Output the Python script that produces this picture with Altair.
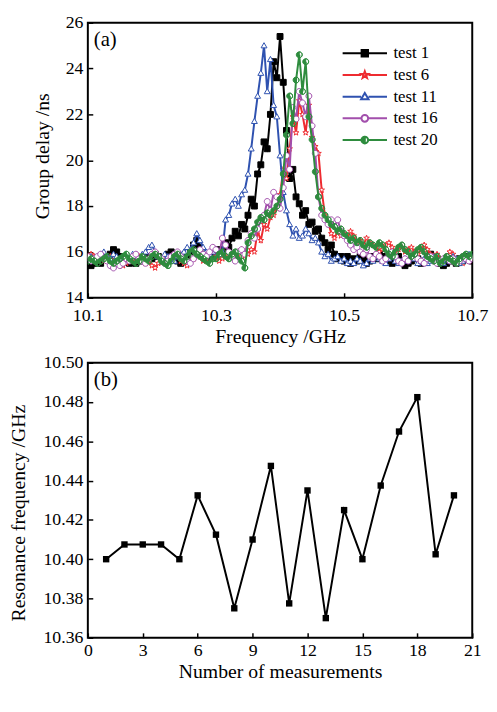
import altair as alt
import pandas as pd

FONT = "Liberation Serif, Times New Roman, serif"

# ---------------- panel (a) data: group delay (ns) on a 0.005 GHz grid ----------------
FREQ_START = 10.100
FREQ_STEP = 0.005

TEST1 = [15.5, 15.4, 15.5, 15.6, 15.5, 15.7, 15.8, 15.9, 16.1, 16.0,
         15.8, 15.7, 15.6, 15.5, 15.6, 15.5, 15.6, 15.7, 15.6, 15.8,
         15.7, 15.9, 15.8, 15.6, 15.7, 15.9, 16.0, 15.8, 15.6, 15.5,
         15.6, 15.8, 16.0, 16.3, 16.5, 16.2, 15.9, 15.7, 15.8, 15.9,
         15.9, 16.1, 16.0, 16.4, 16.2, 16.6, 16.9, 16.7, 17.2, 17.0,
         17.6, 18.3, 18.0, 19.4, 19.8, 20.8, 20.5, 22.0, 24.3, 23.6,
         25.4, 23.4, 21.3, 19.2, 19.6, 18.4, 18.1, 17.6, 17.8, 17.2,
         17.3, 16.9, 17.0, 16.6, 16.4, 16.1, 16.3, 15.9, 15.7, 15.8,
         15.6, 15.8, 15.5, 15.7, 15.6, 15.8, 15.7, 15.5, 15.6, 15.8,
         15.7, 15.9, 15.8, 15.6, 15.7, 15.5, 15.6, 15.8, 15.6, 15.4,
         15.5, 15.6, 15.8, 15.7, 15.5, 15.6, 15.8, 15.9, 15.7, 15.6,
         15.5, 15.4, 15.5, 15.7, 15.6, 15.5, 15.7, 15.6, 15.8, 15.7,
         15.6]

TEST6 = [15.8, 15.9, 15.8, 15.7, 15.8, 15.6, 15.7, 15.8, 15.6, 15.5,
         15.6, 15.4, 15.5, 15.6, 15.7, 15.6, 15.8, 15.7, 15.5, 15.6,
         15.4, 15.3, 15.5, 15.7, 15.8, 15.6, 15.7, 15.9, 15.8, 15.6,
         15.5, 15.4, 15.6, 15.7, 15.9, 15.8, 15.6, 15.7, 15.9, 16.0,
         15.8, 15.6, 15.7, 15.9, 16.0, 15.8, 15.7, 15.9, 16.1, 15.8,
         15.9, 16.1, 16.0, 16.9, 16.5, 17.2, 17.0, 17.5, 17.6, 17.9,
         18.5, 19.6, 19.2, 20.5, 21.9, 21.2, 22.6, 22.0, 21.2, 22.4,
         21.0, 20.6, 20.3, 18.7, 17.6, 17.3, 16.8, 16.6, 16.9, 16.7,
         16.8, 16.6, 16.9, 16.7, 16.4, 16.5, 16.3, 16.6, 16.4, 16.3,
         16.2, 16.0, 16.1, 16.3, 16.4, 16.2, 16.0, 16.1, 16.2, 16.0,
         16.1, 16.2, 16.0, 15.9, 16.1, 16.3, 16.1, 15.9, 15.8, 15.9,
         15.7, 15.6, 15.8, 16.0, 15.9, 15.7, 15.6, 15.5, 15.7, 15.6,
         15.7]

TEST11 = [15.7, 15.8, 15.6, 15.7, 15.9, 16.0, 15.8, 15.7, 15.9, 15.8,
          15.7, 15.6, 15.8, 15.7, 15.9, 15.8, 15.7, 15.9, 16.0, 16.2,
          16.3, 16.0, 15.8, 15.7, 15.9, 15.8, 15.7, 15.6, 15.8, 15.9,
          16.0, 16.2, 16.1, 16.4, 16.8, 16.5, 16.2, 16.0, 15.9, 16.0,
          16.1, 15.9, 16.0, 17.4, 17.6, 18.1, 18.3, 18.0, 18.5, 18.7,
          19.4, 20.5, 21.7, 22.8, 23.8, 25.0, 23.0, 24.4, 22.4, 21.9,
          20.2, 18.6, 17.8, 17.2, 16.7, 17.0, 16.6, 16.7, 17.0, 16.8,
          16.5, 16.6, 16.4, 16.0, 15.8, 15.9, 15.6, 15.7, 15.8, 15.6,
          15.7, 15.5, 15.6, 15.5, 15.7, 15.6, 15.4, 15.5, 15.7, 15.6,
          15.8, 15.7, 15.6, 15.5, 15.7, 15.8, 15.6, 15.5, 15.6, 15.7,
          15.6, 15.8, 15.7, 15.5, 15.6, 15.7, 15.5, 15.6, 15.8, 15.7,
          15.6, 15.5, 15.7, 15.6, 15.8, 15.7, 15.5, 15.6, 15.7, 15.9,
          15.8]

TEST16 = [15.8, 15.6, 15.7, 15.8, 15.9, 15.7, 15.6, 15.4, 15.3, 15.5,
          15.4, 15.5, 15.7, 15.6, 15.8, 15.9, 15.7, 15.6, 15.5, 15.7,
          15.9, 16.0, 15.8, 15.7, 15.5, 15.6, 15.8, 15.9, 16.0, 15.8,
          15.7, 15.6, 15.5, 15.7, 15.9, 16.1, 15.9, 15.8, 16.0, 16.2,
          16.1, 15.9, 16.6, 16.3, 16.0, 15.8, 15.6, 16.0, 16.1, 15.9,
          16.5, 16.8, 16.6, 17.0, 17.4, 17.6, 18.2, 17.8, 18.6, 18.4,
          17.9, 18.8, 20.2, 19.6, 22.3, 21.8, 23.0, 22.5, 21.9, 22.8,
          21.5, 20.3, 18.4, 17.6, 17.4, 17.2, 17.4, 17.1, 17.4, 16.9,
          16.7, 16.5, 16.3, 16.1, 16.2, 16.0, 15.9, 16.1, 15.8, 15.7,
          15.9, 15.8, 15.6, 15.7, 15.9, 16.0, 15.8, 15.6, 15.5, 15.7,
          15.6, 15.8, 15.9, 15.7, 15.6, 15.5, 15.7, 15.8, 15.6, 15.5,
          15.6, 15.7, 15.8, 15.6, 15.7, 15.5, 15.6, 15.8, 15.7, 15.6,
          15.7]

TEST20 = [15.6, 15.7, 15.6, 15.5, 15.6, 15.7, 15.8, 15.6, 15.5, 15.6,
          15.7, 15.8, 15.9, 15.7, 15.6, 15.5, 15.6, 15.8, 15.7, 15.6,
          15.8, 15.9, 15.8, 15.6, 15.5, 15.4, 15.6, 15.8, 15.9, 15.7,
          15.6, 15.8, 16.0, 16.1, 15.9, 15.8, 15.7, 15.6, 15.5, 15.7,
          15.7, 15.9, 16.0, 15.8, 15.7, 15.9, 16.0, 15.8, 15.6, 15.3,
          16.4, 16.7, 17.0, 17.3, 17.5, 17.4, 17.7, 17.6, 17.8, 18.0,
          18.3, 19.4, 21.1, 22.8, 21.6, 23.5, 24.6, 23.0, 24.3, 21.9,
          20.9, 19.5, 18.4, 17.9, 17.6, 17.4, 17.2, 17.1, 16.9, 17.0,
          16.8, 16.7, 16.5, 16.6, 16.4, 16.5, 16.3, 16.2, 16.4, 16.3,
          16.2, 16.4, 16.3, 16.1, 15.9, 15.8, 16.0, 16.2, 16.3, 16.1,
          16.0, 15.8, 15.9, 16.1, 16.2, 16.0, 15.8, 15.7, 15.6, 15.8,
          15.5, 15.6, 15.8, 15.7, 15.6, 15.5, 15.7, 15.8, 15.9, 15.8,
          15.9]

SERIES = ["test 1", "test 6", "test 11", "test 16", "test 20"]
VALUES = [TEST1, TEST6, TEST11, TEST16, TEST20]
COLORS = ["#000000", "#ee2b30", "#2f52b0", "#a24fac", "#2e8c3e"]
FILLS = ["#000000", "#ffffff", "#ffffff", "#ffffff", "#2e8c3e"]

TOP_X_TICKS = [10.1, 10.3, 10.5, 10.7]
TOP_Y_TICKS = [14, 16, 18, 20, 22, 24, 26]

# ---------------- panel (b) data ----------------
MEAS = list(range(1, 21))
RES_FREQ = [10.400, 10.4075, 10.4075, 10.4075, 10.400, 10.4325, 10.4125, 10.375, 10.410, 10.4475,
            10.3775, 10.435, 10.370, 10.425, 10.400, 10.4375, 10.465, 10.4825, 10.4025, 10.4325]
BOT_X_TICKS = [0, 3, 6, 9, 12, 15, 18, 21]
BOT_Y_TICKS = [10.36, 10.38, 10.40, 10.42, 10.44, 10.46, 10.48, 10.50]

PANEL_A = ["(a)"]
PANEL_B = ["(b)"]

# ---------------- marker shapes (unit square paths) ----------------
SQUARE = "M-1,-1H1V1H-1Z"
STAR = ("M0,-1L0.235,-0.324L0.951,-0.309L0.380,0.124L0.588,0.809L0,0.4"
        "L-0.588,0.809L-0.380,0.124L-0.951,-0.309L-0.235,-0.324Z")
TRI = "M0,-1L1,0.75L-1,0.75Z"
CIRCLE = "M1,0A1,1 0 1,1 -1,0A1,1 0 1,1 1,0Z"
HALF = "M1,0A1,1 0 1,1 -1,0A1,1 0 1,1 1,0Z M0,1A1,1 0 0,0 0,-1Z"
MARKERS = [SQUARE, STAR, TRI, CIRCLE, HALF]

# legend symbols: a line with the marker in the middle (unit = 9 px)
LEG_SHAPES = [
    "M-2.5,0H2.5M-0.36,-0.36H0.36V0.36H-0.36Z",
    "M-2.5,0H-0.42M0.42,0H2.5M0,-0.42L0.1,-0.138L0.399,-0.13L0.162,0.053L0.247,0.34L0,0.17"
    "L-0.247,0.34L-0.162,0.053L-0.399,-0.13L-0.1,-0.138Z",
    "M-2.5,0H-0.42M0.42,0H2.5M0,-0.42L0.42,0.3L-0.42,0.3Z",
    "M-2.5,0H-0.38M0.38,0H2.5M0.38,0A0.38,0.38 0 1,1 -0.38,0A0.38,0.38 0 1,1 0.38,0Z",
    "M-2.5,0H-0.38M0.38,0H2.5M0.38,0A0.38,0.38 0 1,1 -0.38,0A0.38,0.38 0 1,1 0.38,0Z"
    "M0,0.38A0.38,0.38 0 0,0 0,-0.38Z",
]

freq = [round(FREQ_START + FREQ_STEP * i, 3) for i in range(len(TEST1))]

PLOT_W = 390
PLOT_H = 279

# ---------------- panel (a) ----------------
xs_top = alt.Scale(domain=[10.1, 10.7], nice=False, zero=False)
ys_top = alt.Scale(domain=[14, 26], nice=False, zero=False)
xa_top = alt.Axis(values=TOP_X_TICKS, tickCount=20, format=".1f", title="Frequency /GHz",
                  offset=-5, tickSize=5, labelPadding=9, labelFlush=False, labelOverlap=False,
                  titleY=50, titleBaseline="alphabetic")
ya_top = alt.Axis(values=TOP_Y_TICKS, tickCount=20, format="d", title="Group delay /ns",
                  offset=-5, tickSize=5, labelPadding=5, labelOverlap=False,
                  titleX=-51, titleY=135, titleBaseline="middle", titleAlign="center", titleAngle=-90)

layers = []
for name, vals, col, fill, shp in zip(SERIES, VALUES, COLORS, FILLS, MARKERS):
    df = pd.DataFrame({"freq": freq, "delay": vals, "series": name})
    base = alt.Chart(df).encode(
        x=alt.X("freq:Q", scale=xs_top, axis=xa_top),
        y=alt.Y("delay:Q", scale=ys_top, axis=ya_top),
    )
    layers.append(base.mark_line(color=col, strokeWidth=2, clip=True))
    layers.append(base.mark_point(shape=shp, size=36, fill=fill, stroke=col, strokeWidth=1,
                                  opacity=1, fillOpacity=1, clip=True))

LEG = alt.Legend(title=None, orient="none", legendX=271, legendY=21, padding=0,
                 symbolSize=324, symbolStrokeWidth=2, symbolOpacity=1,
                 labelFont=FONT, labelFontSize=17, labelColor="black", labelOffset=19,
                 rowPadding=4)
leg_df = pd.DataFrame({"series": SERIES})
legend_layer = alt.Chart(leg_df).mark_point(opacity=0).encode(
    color=alt.Color("series:N", scale=alt.Scale(domain=SERIES, range=COLORS), legend=LEG),
    fill=alt.Fill("series:N", scale=alt.Scale(domain=SERIES, range=FILLS), legend=LEG),
    shape=alt.Shape("series:N", scale=alt.Scale(domain=SERIES, range=LEG_SHAPES), legend=LEG),
)

label_a = alt.Chart(pd.DataFrame({"label": PANEL_A})).mark_text(
    align="left", baseline="top", dx=6, dy=7, font=FONT, fontSize=21, color="black"
).encode(x=alt.datum(10.1), y=alt.datum(26), text="label:N")

top = alt.layer(*layers, legend_layer, label_a).properties(width=PLOT_W, height=PLOT_H)

# ---------------- panel (b) ----------------
df2 = pd.DataFrame({"n": MEAS, "f": RES_FREQ})
xs_bot = alt.Scale(domain=[0, 21], nice=False, zero=False)
ys_bot = alt.Scale(domain=[10.36, 10.50], nice=False, zero=False)
b = alt.Chart(df2).encode(
    x=alt.X("n:Q", scale=xs_bot,
            axis=alt.Axis(values=BOT_X_TICKS, tickCount=20, format="d",
                          title="Number of measurements",
                          offset=-5, tickSize=5, labelPadding=4, labelFlush=False,
                          labelOverlap=False, titleY=45, titleBaseline="alphabetic")),
    y=alt.Y("f:Q", scale=ys_bot,
            axis=alt.Axis(values=BOT_Y_TICKS, tickCount=20, format=".2f",
                          title="Resonance frequency /GHz",
                          offset=-5, tickSize=5, labelPadding=5, labelOverlap=False,
                          titleX=-75, titleY=152, titleBaseline="middle", titleAlign="center",
                          titleAngle=-90)),
)
label_b = alt.Chart(pd.DataFrame({"label": PANEL_B})).mark_text(
    align="left", baseline="top", dx=6, dy=7, font=FONT, fontSize=21, color="black"
).encode(x=alt.datum(0, scale=xs_bot), y=alt.datum(10.50), text="label:N")

bottom = alt.layer(
    b.mark_line(color="black", strokeWidth=2),
    b.mark_point(shape=SQUARE, size=42, filled=True, color="black", opacity=1),
    label_b,
).properties(width=PLOT_W, height=PLOT_H)

chart = alt.vconcat(top, bottom, spacing=66, bounds="flush").properties(
    padding={"left": 0, "top": 0, "right": 0, "bottom": 0}
).configure(
    font=FONT
).configure_view(
    stroke="black", strokeWidth=2
).configure_axis(
    labelFont=FONT, titleFont=FONT, labelFontSize=18, titleFontSize=20,
    titleFontWeight="normal", labelColor="black", titleColor="black",
    tickColor="black", tickWidth=1.5, grid=False, domain=False, labelOverlap=False,
)

chart.save("out.html", embed_options={"renderer": "svg", "actions": False})
